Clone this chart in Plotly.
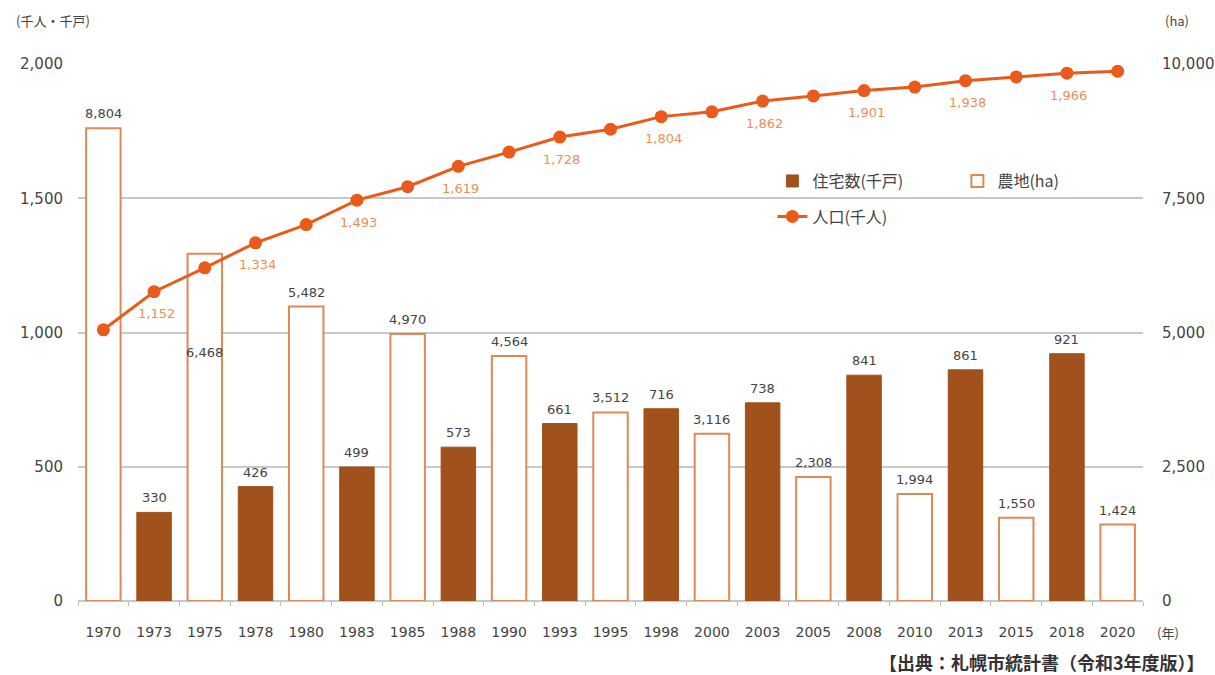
import plotly.graph_objects as go

years = ["1970","1973","1975","1978","1980","1983","1985","1988","1990","1993","1995",
         "1998","2000","2003","2005","2008","2010","2013","2015","2018","2020"]
population = [1010,1152,1241,1334,1402,1493,1543,1619,1672,1728,1757,
              1804,1822,1862,1881,1901,1914,1938,1952,1966,1973]
pop_labeled = ["1973","1978","1983","1988","1993","1998","2003","2008","2013","2018"]

house_years = ["1973","1978","1983","1988","1993","1998","2003","2008","2013","2018"]
houses = [330,426,499,573,661,716,738,841,861,921]

farm_years = ["1970","1975","1980","1985","1990","1995","2000","2005","2010","2015","2020"]
farmland = [8804,6468,5482,4970,4564,3512,3116,2308,1994,1550,1424]
farm_label_moved = "1975"

FONT = "Noto Sans CJK JP"
NUMFONT = "DejaVu Sans"
BROWN = "#A0511C"
ORANGE_EDGE = "#DC8A58"
LINE = "#EA5A1A"
LABEL_ORANGE = "#EC8E58"
TXT = "#444444"

pos = {y: i for i, y in enumerate(years)}

fig = go.Figure()

# farmland on base axis (y, right side)
fig.add_trace(go.Bar(
    x=[pos[y] for y in farm_years], y=farmland, name="農地(ha)",
    marker=dict(color="white", line=dict(color=ORANGE_EDGE, width=2)),
    width=0.68, yaxis="y", legend="legend", legendrank=2,
))

# housing and population on overlay axis (y2, left side)
fig.add_trace(go.Bar(
    x=[pos[y] for y in house_years], y=houses, name="住宅数(千戸)",
    marker=dict(color=BROWN, line=dict(color=BROWN, width=1)),
    width=0.68, yaxis="y2", legend="legend", legendrank=1,
))

fig.add_trace(go.Scatter(
    x=[pos[y] for y in years], y=population, name="人口(千人)", mode="lines+markers",
    line=dict(color=LINE, width=3),
    marker=dict(color=LINE, size=13),
    yaxis="y2", legend="legend2",
))

# bar value labels
for y, v in zip(farm_years, farmland):
    if y == farm_label_moved:
        fig.add_annotation(x=pos[y], y=v, yref="y", text=f"{v:,}", showarrow=False,
                           yshift=-99, font=dict(family=NUMFONT, size=13, color=TXT))
    else:
        fig.add_annotation(x=pos[y], y=v, yref="y", text=f"{v:,}", showarrow=False,
                           yanchor="bottom", yshift=5,
                           font=dict(family=NUMFONT, size=13, color=TXT))
for y, v in zip(house_years, houses):
    fig.add_annotation(x=pos[y], y=v, yref="y2", text=f"{v:,}", showarrow=False,
                       yanchor="bottom", yshift=5,
                       font=dict(family=NUMFONT, size=13, color=TXT))
# population labels
for y, v in zip(years, population):
    if y in pop_labeled:
        fig.add_annotation(x=pos[y], y=v, yref="y2", text=f"{v:,}", showarrow=False,
                           yshift=-22, xshift=2,
                           font=dict(family=NUMFONT, size=13, color=LABEL_ORANGE))

fig.add_annotation(xref="paper", yref="paper", x=1.0, y=0, xanchor="left", yanchor="middle",
                   xshift=12, yshift=-31, text="(年)", showarrow=False,
                   font=dict(family=FONT, size=13, color=TXT))
fig.add_annotation(xref="paper", yref="paper", x=0, y=1, xanchor="right", yanchor="middle",
                   xshift=14, yshift=44, text="(千人・千戸)", showarrow=False,
                   font=dict(family=FONT, size=13, color=TXT))
fig.add_annotation(xref="paper", yref="paper", x=1.0, y=1, xanchor="left", yanchor="middle",
                   xshift=20, yshift=44, text="(ha)", showarrow=False,
                   font=dict(family=FONT, size=13, color=TXT))
fig.add_annotation(xref="paper", yref="paper", x=1.0, y=0, xanchor="right", yanchor="middle",
                   xshift=64, yshift=-61, text="<b>【出典：札幌市統計書（令和3年度版）】</b>",
                   showarrow=False, font=dict(family=FONT, size=18, color="#333333"))

fig.update_layout(
    width=1215, height=675,
    margin=dict(l=78, r=72, t=64, b=74, autoexpand=False),
    paper_bgcolor="white", plot_bgcolor="white",
    barmode="overlay",
    font=dict(family=FONT, size=14, color=TXT),
    xaxis=dict(range=[-0.5, len(years) - 0.5], tickvals=[pos[y] for y in years],
               ticktext=years,
               showgrid=False, showline=False, zeroline=False, ticks="",
               ticklabelstandoff=21,
               minor=dict(tickvals=[i - 0.5 for i in range(len(years) + 1)],
                          ticks="outside", ticklen=4, tickcolor="#BBBBBB", tickwidth=1,
                          showgrid=False),
               tickfont=dict(family=NUMFONT, size=14, color=TXT)),
    yaxis=dict(range=[0, 10000], tickvals=[0, 2500, 5000, 7500, 10000],
               tickformat=",", side="right", showgrid=True, gridcolor="#C8C8C8", gridwidth=2,
               zeroline=True, zerolinecolor="#C8C8C8", zerolinewidth=2,
               ticks="", ticklabelstandoff=18,
               tickfont=dict(family=NUMFONT, size=15, color=TXT)),
    yaxis2=dict(range=[0, 2000], tickvals=[0, 500, 1000, 1500, 2000],
                tickformat=",", overlaying="y", side="left", showgrid=False,
                zeroline=False, ticks="", ticklabelstandoff=14,
                tickfont=dict(family=NUMFONT, size=15, color=TXT)),
    legend=dict(orientation="h", x=0.652, y=0.782, xanchor="left", yanchor="middle",
                entrywidth=140, bgcolor="rgba(0,0,0,0)", traceorder="normal",
                font=dict(family=FONT, size=16, color=TXT)),
    legend2=dict(orientation="h", x=0.652, y=0.716, xanchor="left", yanchor="middle",
                 bgcolor="rgba(0,0,0,0)",
                 font=dict(family=FONT, size=16, color=TXT)),
    showlegend=True,
)

fig.write_html("out.html")
